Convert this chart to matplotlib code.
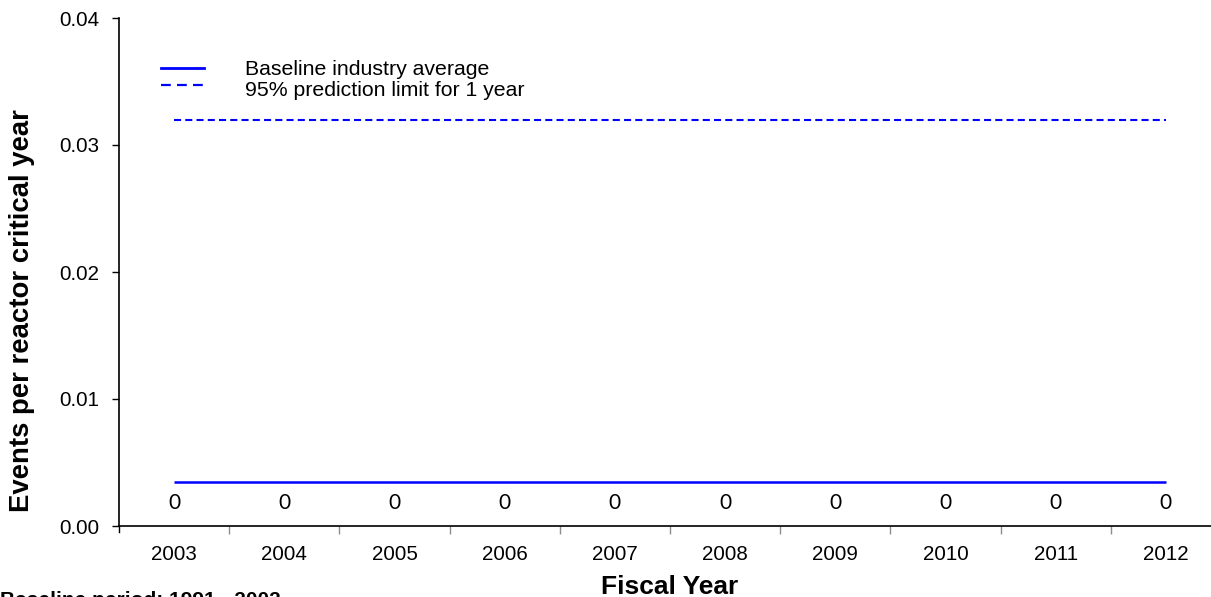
import matplotlib
matplotlib.use("Agg")
import matplotlib.pyplot as plt
from matplotlib.lines import Line2D
import numpy as np

# Data
years = ["2003", "2004", "2005", "2006", "2007", "2008", "2009", "2010", "2011", "2012"]
event_counts = [0, 0, 0, 0, 0, 0, 0, 0, 0, 0]
baseline_average = 0.0035
prediction_limit = 0.032
y_ticks = [0.00, 0.01, 0.02, 0.03, 0.04]

BLUE = "#0000FF"
W, H = 1211, 597
fig = plt.figure(figsize=(W / 100, H / 100), dpi=100)
plt.rcParams["font.family"] = ["Liberation Sans", "DejaVu Sans"]

# Plot area (the right end of the category axis runs past the figure edge)
left, right, top, bottom = 119, 1221, 18, 526
ax = fig.add_axes([left / W, (H - bottom) / H, (right - left) / W, (bottom - top) / H])

x = np.arange(len(years))
ax.plot([x[0], x[-1]], [baseline_average, baseline_average], color=BLUE, lw=1.8,
        solid_capstyle="butt")
ax.plot([x[0], x[-1]], [prediction_limit, prediction_limit], color=BLUE, lw=1.5,
        dashes=(3.4, 2.0))

# Event counts written along the bottom of each year
for xi, c in zip(x, event_counts):
    ax.text(xi, 0.0018, str(c), ha="center", va="center", fontsize=15,
            family=["Lato", "DejaVu Sans"], color="black")

ax.set_xlim(-0.5, len(years) - 0.5)
ax.set_ylim(0, 0.04)
ax.set_yticks(y_ticks)
ax.set_yticklabels([f"{v:.2f}" for v in y_ticks])
ax.tick_params(axis="y", direction="out", length=5, width=1, pad=9, labelsize=14.8)

ax.set_xticks(x)
ax.set_xticklabels(years)
ax.tick_params(axis="x", which="major", length=0, pad=14, labelsize=14.8)
ax.set_xticks(np.arange(0.5, len(years) - 0.5, 1), minor=True)
ax.tick_params(axis="x", which="minor", direction="out", length=6, width=1,
               color="#8c8c8c")

for s in ["top", "right"]:
    ax.spines[s].set_visible(False)
for s in ["left", "bottom"]:
    ax.spines[s].set_linewidth(1.2)

# Black tick at the axes origin below the category axis
ax.plot([-0.5, -0.5], [0, -0.0005], color="black", lw=1, clip_on=False)

ax.set_xlabel("Fiscal Year", fontsize=19, fontweight="bold")
ax.xaxis.set_label_coords(0.5, -0.096)
ax.set_ylabel("Events per reactor critical year", fontsize=19.8, fontweight="bold")
ax.yaxis.set_label_coords(-0.076, 0.425)

# Legend
def px(xp, yp):
    return ((xp - left) / (right - left), (bottom - yp) / (bottom - top))

x0, _ = px(161, 0)
x1, _ = px(204, 0)
_, yl1 = px(0, 68)
_, yl2 = px(0, 85)
ax.add_line(Line2D([x0, x1], [yl1, yl1], transform=ax.transAxes, color=BLUE, lw=2.0))
ax.add_line(Line2D([x0, x1], [yl2, yl2], transform=ax.transAxes, color=BLUE, lw=1.6,
                   dashes=(4.4, 2.8)))
tx, _ = px(245, 0)
_, yt1 = px(0, 75)
_, yt2 = px(0, 96)
ax.text(tx, yt1, "Baseline industry average", transform=ax.transAxes,
        fontsize=15.3, va="baseline", ha="left")
ax.text(tx, yt2, "95% prediction limit for 1 year", transform=ax.transAxes,
        fontsize=15.3, va="baseline", ha="left")

fig.text(0.0 / W, 1 - 606 / H, "Baseline period: 1991 - 2002", fontsize=15,
         fontweight="bold", ha="left", va="baseline")

fig.savefig("out.png", dpi=100)
